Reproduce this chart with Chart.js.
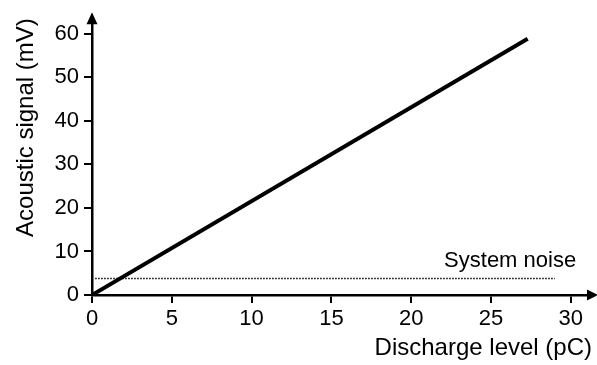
<!DOCTYPE html>
<html>
<head>
<meta charset="utf-8">
<script src="https://cdn.jsdelivr.net/npm/chart.js@4/dist/chart.umd.min.js"></script>
<style>
  html, body { margin: 0; padding: 0; background: #fff; }
</style>
</head>
<body>
<canvas id="signal" width="597" height="365"></canvas>
<script>
// acoustic response vs discharge level
var dischargePC = [0, 27.3];
var signalMV = [0, 58.9];

// measured system noise floor
var noisePC = [0.2, 29.0];
var noiseMV = [3.8, 3.8];
var noiseLabel = "System noise";

var xTicks = [0, 5, 10, 15, 20, 25, 30];
var yTicks = [0, 10, 20, 30, 40, 50, 60];

var FONT = "'Liberation Sans', Arial, sans-serif";

function points(xs, ys) {
    return xs.map(function(x, i){ return {x: x, y: ys[i]}; });
}

// arrow heads on the axes + noise caption
var axisExtras = {
    id: "axisExtras",
    afterDraw: function(chart) {
        var ctx = chart.ctx;
        var a = chart.chartArea;
        ctx.save();
        ctx.fillStyle = "#000";
        ctx.beginPath();
        ctx.moveTo(a.left, a.top - 6);
        ctx.lineTo(a.left - 5.5, a.top + 6);
        ctx.lineTo(a.left + 5.5, a.top + 6);
        ctx.closePath();
        ctx.fill();
        ctx.beginPath();
        ctx.moveTo(a.right + 6, a.bottom);
        ctx.lineTo(a.right - 5, a.bottom - 5.5);
        ctx.lineTo(a.right - 5, a.bottom + 5.5);
        ctx.closePath();
        ctx.fill();

        var xs = chart.scales.x, ys = chart.scales.y;
        ctx.font = "22px " + FONT;
        ctx.textAlign = "center";
        ctx.textBaseline = "alphabetic";
        ctx.fillText(noiseLabel, xs.getPixelForValue(26.2), ys.getPixelForValue(noiseMV[1]) - 11);
        ctx.restore();
    }
};

new Chart(document.getElementById("signal"), {
    type: "scatter",
    data: {
        datasets: [
        {
            data: points(dischargePC, signalMV),
            showLine: true,
            borderColor: "#000",
            borderWidth: 4,
            pointRadius: 0
        },
        {
            data: points(noisePC, noiseMV),
            showLine: true,
            borderColor: "#000",
            borderWidth: 1.5,
            borderDash: [1.5, 1.5],
            pointRadius: 0
        }
        ]
    },
    options: {
        responsive: false,
        animation: false,
        events: [],
        layout: { padding: { top: 10, right: 5, left: 0, bottom: 0 } },
        plugins: {
            legend: { display: false },
            tooltip: { enabled: false }
        },
        scales: {
            x: {
                type: "linear",
                min: 0,
                max: 31.33,
                afterBuildTicks: function(scale){
                    scale.ticks = xTicks.map(function(v){ return {value: v}; });
                },
                afterFit: function(scale){ scale.height = 70; },
                border: { display: true, color: "#000", width: 2.5 },
                grid: { display: true, drawOnChartArea: false, drawTicks: true, tickLength: 8, color: "#000", lineWidth: 2 },
                ticks: { color: "#000", padding: 3, maxRotation: 0, font: { family: FONT, size: 22 } },
                title: {
                    display: true,
                    text: "Discharge level (pC)",
                    align: "end",
                    color: "#000",
                    padding: { top: 0, bottom: 2 },
                    font: { family: FONT, size: 24 }
                }
            },
            y: {
                type: "linear",
                min: 0,
                max: 63.6,
                afterBuildTicks: function(scale){
                    scale.ticks = yTicks.map(function(v){ return {value: v}; });
                },
                afterFit: function(scale){ scale.width = 92; },
                border: { display: true, color: "#000", width: 2.5 },
                grid: { display: true, drawOnChartArea: false, drawTicks: true, tickLength: 8, color: "#000", lineWidth: 2 },
                ticks: { color: "#000", padding: 5, font: { family: FONT, size: 22 } },
                title: {
                    display: true,
                    text: "Acoustic signal (mV)",
                    align: "end",
                    color: "#000",
                    padding: { top: 12, bottom: 0 },
                    font: { family: FONT, size: 24 }
                }
            }
        }
    },
    plugins: [axisExtras]
});
</script>
</body>
</html>
